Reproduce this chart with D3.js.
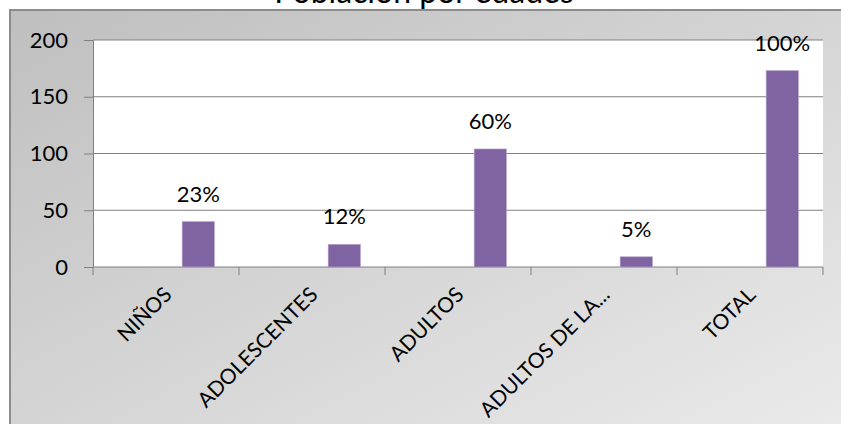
<!DOCTYPE html>
<html>
<head>
<meta charset="utf-8">
<script src="https://cdn.jsdelivr.net/npm/d3@7"></script>
<style>
  body { margin: 0; background: #fff; }
  svg text { font-family: Lato, "Open Sans", sans-serif; fill: #000; }
</style>
</head>
<body>
<div id="bar-chart"></div>
<script>
var categories = ["NIÑOS", "ADOLESCENTES", "ADULTOS", "ADULTOS DE LA...", "TOTAL"];
var series = ["Serie1", "Serie2", "Serie3"];
var poblacion = [40, 20, 104, 9, 173];
var percentLabels = ["23%", "12%", "60%", "5%", "100%"];
var yTicks = [0, 50, 100, 150, 200];
var chartTitle = "Población por edades";

var width = 841,
  height = 424;
var plot = { left: 93, top: 40, right: 823, bottom: 267 };

var svg = d3
  .select("#bar-chart")
  .append("svg")
  .attr("width", width)
  .attr("height", height);

// background gradient of the chart area
var defs = svg.append("defs");
var grad = defs
  .append("linearGradient")
  .attr("id", "bg")
  .attr("x1", "0%")
  .attr("y1", "0%")
  .attr("x2", "100%")
  .attr("y2", "100%");
grad.append("stop").attr("offset", "0%").attr("stop-color", "#bfbfbf");
grad.append("stop").attr("offset", "100%").attr("stop-color", "#ececec");

svg
  .append("rect")
  .attr("x", 10)
  .attr("y", 10)
  .attr("width", 860)
  .attr("height", 440)
  .attr("fill", "url(#bg)")
  .attr("stroke", "#8c8c8c")
  .attr("stroke-width", 2);

// title sits partly above the top edge, as in the source picture
svg
  .append("text")
  .attr("x", 424)
  .attr("y", 3)
  .attr("text-anchor", "middle")
  .style("font-size", "32px")
  .text(chartTitle);

svg
  .append("rect")
  .attr("x", plot.left)
  .attr("y", plot.top)
  .attr("width", plot.right - plot.left)
  .attr("height", plot.bottom - plot.top)
  .attr("fill", "#fff");

var x = d3.scaleBand().domain(categories).range([plot.left, plot.right]);
var xs = d3
  .scaleBand()
  .domain(series)
  .range([0, x.bandwidth()])
  .paddingInner(0)
  .paddingOuter(0.76);
var y = d3.scaleLinear().domain([0, 200]).range([plot.bottom, plot.top]);

// gridlines
svg
  .selectAll(".grid")
  .data(yTicks.slice(1))
  .enter()
  .append("line")
  .attr("class", "grid")
  .attr("x1", plot.left)
  .attr("x2", plot.right)
  .attr("y1", function (d) { return y(d); })
  .attr("y2", function (d) { return y(d); })
  .attr("stroke", "#808080")
  .attr("stroke-width", 1);

// y axis
var yAxis = svg
  .append("g")
  .attr("transform", "translate(" + plot.left + ",0)")
  .call(d3.axisLeft(y).tickValues(yTicks).tickSize(9).tickPadding(16));
yAxis.selectAll("line, path").attr("stroke", "#808080");
yAxis.selectAll("text").style("font-size", "22px").style("font-family", "Lato, sans-serif");

// x axis: ticks on category boundaries
var bounds = categories.map(function (d) { return x(d); }).concat([plot.right]);
var xAxis = svg.append("g");
xAxis
  .append("line")
  .attr("x1", plot.left)
  .attr("x2", plot.right)
  .attr("y1", plot.bottom)
  .attr("y2", plot.bottom)
  .attr("stroke", "#808080");
xAxis
  .selectAll(".xtick")
  .data(bounds)
  .enter()
  .append("line")
  .attr("x1", function (d) { return d; })
  .attr("x2", function (d) { return d; })
  .attr("y1", plot.bottom)
  .attr("y2", plot.bottom + 8)
  .attr("stroke", "#808080");

xAxis
  .selectAll(".xlabel")
  .data(categories)
  .enter()
  .append("text")
  .attr("text-anchor", "end")
  .attr("transform", function (d) {
    return "translate(" + (x(d) + x.bandwidth() / 2 + 7) + "," + (plot.bottom + 29) + ")rotate(-45)";
  })
  .style("font-size", "21px")
  .text(function (d) { return d; });

// bars (only the third series carries values)
svg
  .selectAll(".bar")
  .data(poblacion)
  .enter()
  .append("rect")
  .attr("class", "bar")
  .attr("x", function (d, i) { return x(categories[i]) + xs("Serie3"); })
  .attr("y", function (d) { return y(d); })
  .attr("width", xs.bandwidth())
  .attr("height", function (d) { return y(0) - y(d); })
  .attr("fill", "#8064a2")
  .attr("stroke", "#b6a6cc")
  .attr("stroke-width", 0.6);

svg
  .selectAll(".pct")
  .data(poblacion)
  .enter()
  .append("text")
  .attr("class", "pct")
  .attr("text-anchor", "middle")
  .attr("x", function (d, i) { return x(categories[i]) + xs("Serie3") + xs.bandwidth() / 2; })
  .attr("y", function (d) { return y(d) - 20; })
  .style("font-size", "22px")
  .text(function (d, i) { return percentLabels[i]; });
</script>
</body>
</html>
